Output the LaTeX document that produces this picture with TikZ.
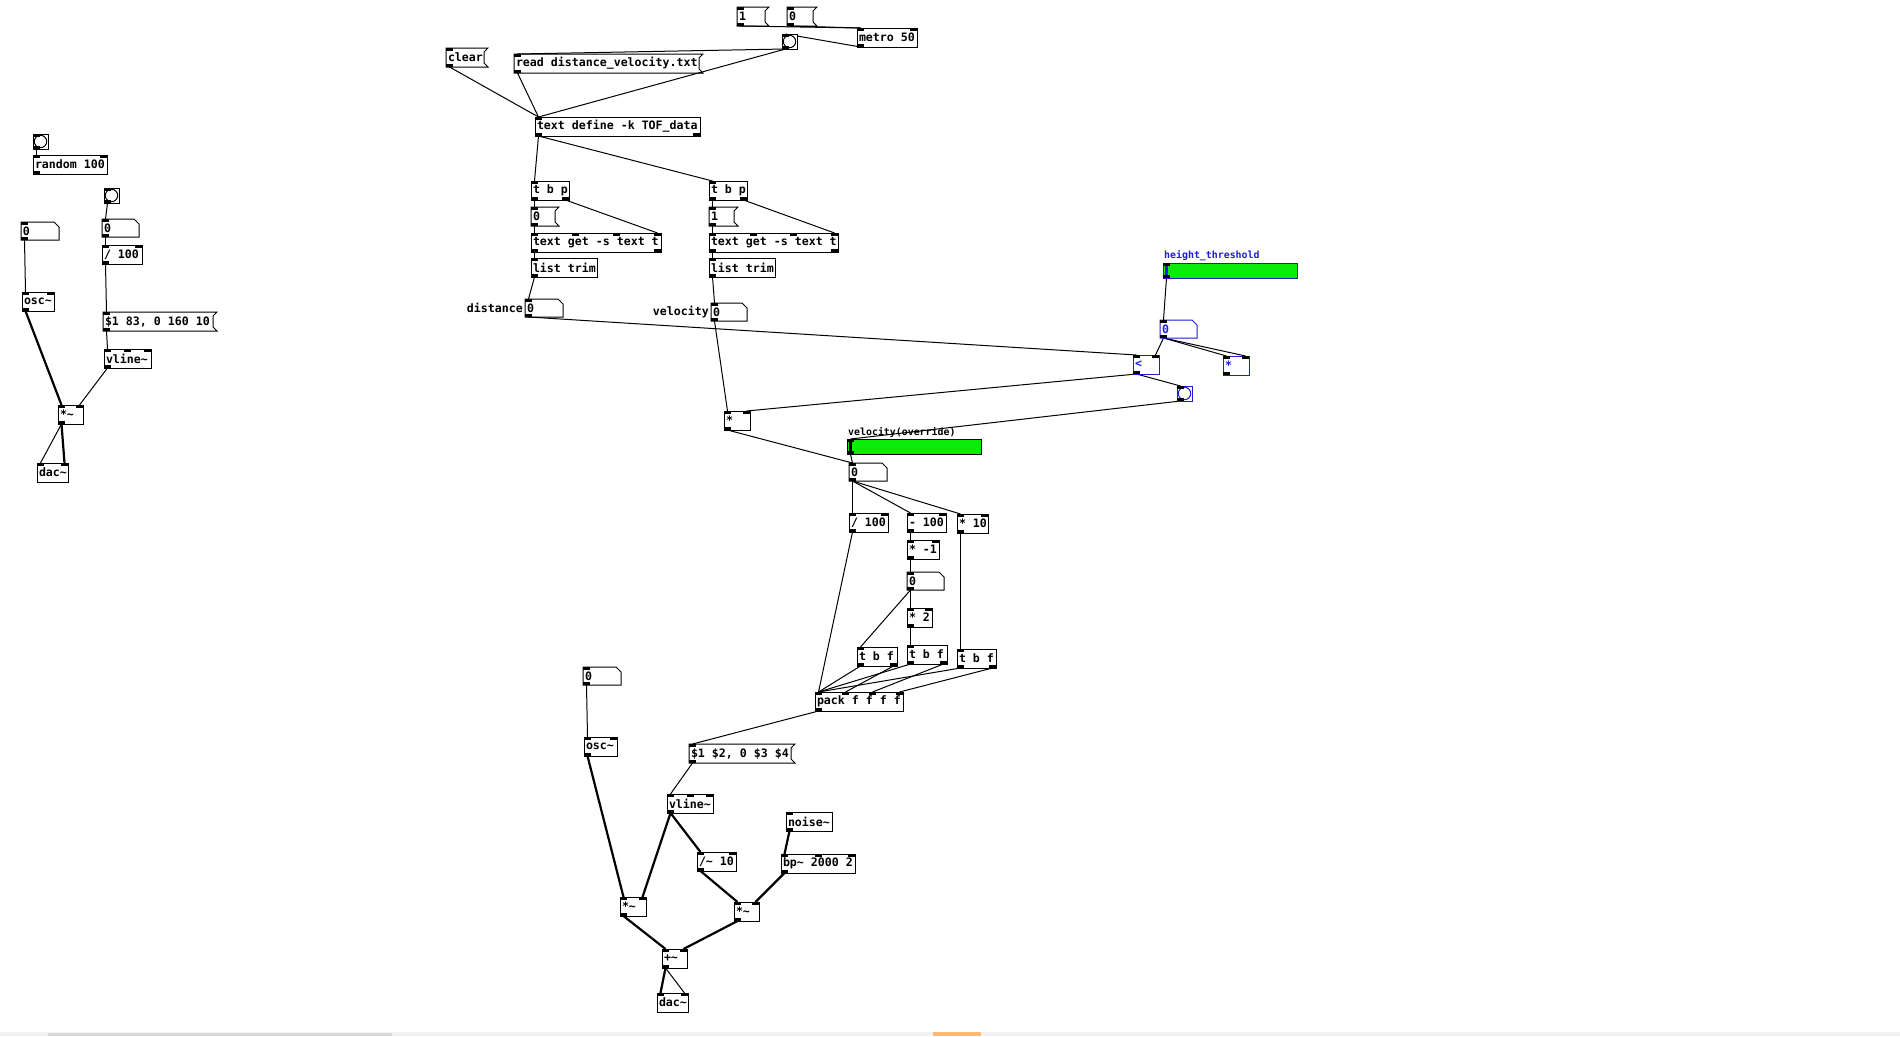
\documentclass[tikz,border=0pt]{standalone}
\usepackage{fontspec}
\usetikzlibrary{calc, backgrounds}

\newfontfamily\pdmono{DejaVu Sans Mono}
\newcommand{\pdtxt}{\pdmono\bfseries\fontsize{11.6pt}{13pt}\selectfont}
\newcommand{\pdsmall}{\pdmono\bfseries\fontsize{9.9pt}{11pt}\selectfont}
\newcommand{\pdtl}{\textasciitilde}

\definecolor{pdblue}{RGB}{30,30,210}
\definecolor{pdgreen}{RGB}{10,235,10}

% inlets and outlets of a box: node, no. of inlets, no. of outlets
\newcommand{\pdports}[3]{%
  \ifnum#2>0
    \foreach \k in {1,...,#2}{%
      \pgfmathsetmacro\pdfr{(\k-1)/max(#2-1,1)}%
      \coordinate (#1-i\k) at ($(#1.north west)!\pdfr!(#1.north east)+(3.5-7*\pdfr,0)$);
      \fill ([xshift=-3.5pt]#1-i\k) rectangle ++(7,3);
    }%
  \fi
  \ifnum#3>0
    \foreach \k in {1,...,#3}{%
      \pgfmathsetmacro\pdfr{(\k-1)/max(#3-1,1)}%
      \coordinate (#1-o\k) at ($(#1.south west)!\pdfr!(#1.south east)+(3.5-7*\pdfr,0)$);
      \fill ([xshift=-3.5pt]#1-o\k) rectangle ++(7,-3);
    }%
  \fi}

\begin{document}
\begin{tikzpicture}[
    x=1pt, y=-1pt,
    box/.style={draw, line width=1pt, anchor=north west, inner xsep=2pt, inner ysep=0pt, outer sep=0pt, minimum height=19pt, font=\pdtxt},
    num/.style={box, draw=none, minimum height=18pt},
    msg/.style={box, draw=none},
    wd/.code={\pgfmathsetmacro\pdtw{#1-4}\pgfkeysalso{minimum width=#1pt, execute at begin node={\hbox to \pdtw pt\bgroup}, execute at end node={\hss\egroup}}},
    bng/.style={draw=#1, fill=white, line width=1pt, anchor=north west, minimum size=15pt, inner sep=0pt, outer sep=0pt,
        path picture={\draw[draw=#1, line width=1pt] (path picture bounding box.center) circle (6.2pt);}},
    bng/.default=black,
    sl/.style={draw=#1, fill=pdgreen, line width=1pt, anchor=north west, minimum width=134pt, minimum height=15pt, inner sep=0pt, outer sep=0pt,
        path picture={\draw[line width=3pt] ([xshift=3.5pt]path picture bounding box.north west) -- ([xshift=3.5pt]path picture bounding box.south west);}},
    sl/.default=black,
    lbl/.style={font=\pdtxt, inner sep=0pt},
    lbl2/.style={font=\pdsmall, inner sep=0pt, anchor=west},
    wire/.style={line width=1pt},
    sig/.style={line width=2.2pt}
]
\useasboundingbox (0,0) rectangle (1900,1036);

% ============ TEST PATCH (LEFT) ============
\node[bng] (bngA) at (33,134) {};
\node[box, wd=74] (rnd) at (33,155) {random 100};
\node[bng] (bngB) at (104,188) {};
\node[num, wd=38] (numA) at (21,222) {0};
\node[num, wd=37] (numB) at (102,219) {0};
\node[box, wd=40] (divA) at (102,245) {/ 100};
\node[box, wd=32] (oscA) at (22,292) {osc\pdtl};
\node[msg, wd=114] (msgA) at (103,312) {\$1 83, 0 160 10};
\node[box, wd=47] (vlA) at (104,349) {vline\pdtl};
\node[box, wd=25] (mulA) at (58,405) {*\pdtl};
\node[box, wd=31] (dacA) at (37,463) {dac\pdtl};

% ============ FILE READING (TOP) ============
\node[msg, wd=32] (msg1) at (737,7) {1};
\node[msg, wd=30] (msg0) at (787,7) {0};
\node[box, wd=60] (metro) at (857,28) {metro 50};
\node[bng] (bngC) at (782,34) {};
\node[msg, wd=42] (clr) at (446,48) {clear};
\node[msg, wd=189] (rd) at (514,54) {read distance\_velocity.txt};
\node[box, wd=165] (tdef) at (535,117) {text define -k TOF\_data};

% distance column
\node[box, wd=38] (tbpL) at (531,181) {t b p};
\node[msg, wd=28] (msgL) at (531,207) {0};
\node[box, wd=130] (tgL) at (531,233) {text get -s text t};
\node[box, wd=66] (ltL) at (531,258) {list trim};
\node[num, wd=38] (dist) at (525,299) {0};
\node[lbl, anchor=east] (distLbl) at ([xshift=-2pt]dist.west) {distance};

% velocity column
\node[box, wd=38] (tbpR) at (709,181) {t b p};
\node[msg, wd=29] (msgR) at (709,207) {1};
\node[box, wd=129] (tgR) at (709,233) {text get -s text t};
\node[box, wd=66] (ltR) at (709,258) {list trim};
\node[num, wd=36] (vel) at (711,303) {0};
\node[lbl, anchor=east] (velLbl) at ([xshift=-2pt]vel.west) {velocity};

% ============ THRESHOLD ============
\node[sl=pdblue] (thSl) at (1163,263) {};
\node[lbl2, text=pdblue] (thLbl) at ([shift={(1pt,7pt)}]thSl.north west) {height\_threshold};
\node[num, wd=37, text=pdblue] (thNum) at (1160,320) {0};
\node[box, wd=26, draw=pdblue, text=pdblue] (lt) at (1133,355) {<};
\node[box, wd=26, draw=pdblue, text=pdblue] (mulB) at (1223,356) {*};
\node[bng=pdblue] (bngD) at (1177,386) {};
\node[box, wd=26] (mulC) at (724,411) {*};
\node[sl] (ovSl) at (847,439) {};
\node[lbl2] (ovLbl) at ([shift={(1pt,7pt)}]ovSl.north west) {velocity(override)};
\node[num, wd=38] (ovNum) at (849,463) {0};

% ============ ENVELOPE PARAMETERS ============
\node[box, wd=39] (divB) at (849,513) {/ 100};
\node[box, wd=39] (subB) at (907,513) {- 100};
\node[box, wd=31] (mulD) at (957,514) {* 10};
\node[box, wd=32] (mulE) at (907,540) {* -1};
\node[num, wd=37] (numC) at (907,572) {0};
\node[box, wd=25] (mulF) at (907,608) {* 2};
\node[box, wd=40] (tbf1) at (857,647) {t b f};
\node[box, wd=40] (tbf2) at (907,645) {t b f};
\node[box, wd=39] (tbf3) at (957,649) {t b f};
\node[box, wd=88] (pack) at (815,692) {pack f f f f};

% ============ SYNTHESIS (BOTTOM) ============
\node[num, wd=38] (numD) at (583,667) {0};
\node[box, wd=33] (oscB) at (584,737) {osc\pdtl};
\node[msg, wd=106] (msgB) at (689,744) {\$1 \$2, 0 \$3 \$4};
\node[box, wd=46] (vlB) at (667,794) {vline\pdtl};
\node[box, wd=46] (noise) at (786,812) {noise\pdtl};
\node[box, wd=39] (divC) at (697,852) {/\pdtl{} 10};
\node[box, wd=74] (bp) at (781,854) {bp\pdtl{} 2000 2};
\node[box, wd=26] (mulG) at (620,897) {*\pdtl};
\node[box, wd=25] (mulH) at (734,902) {*\pdtl};
\node[box, wd=25] (add) at (662,949) {+\pdtl};
\node[box, wd=31] (dacB) at (657,993) {dac\pdtl};

% Message and number box outlines
\foreach \m in {msgA, msg1, msg0, clr, rd, msgL, msgR, msgB}
    \draw[line width=1pt] (\m.north west) -- (\m.north east) -- ([shift={(-4pt,-4pt)}]\m.north east)
        -- ([shift={(-4pt,4pt)}]\m.south east) -- (\m.south east) -- (\m.south west) -- cycle;
\foreach \n/\c in {numA/black, numB/black, dist/black, vel/black, thNum/pdblue, ovNum/black, numC/black, numD/black}
    \draw[draw=\c, line width=1pt] (\n.north west) -- ([xshift=-5pt]\n.north east) -- ([yshift=-5pt]\n.north east)
        -- (\n.south east) -- (\n.south west) -- cycle;

% Inlets / outlets
\foreach \name/\nIn/\nOut in {bngA/1/1, rnd/2/1, bngB/1/1, numA/1/1, numB/1/1, divA/2/1, oscA/2/1, msgA/1/1, vlA/3/1, mulA/2/1, dacA/2/0,
    msg1/1/1, msg0/1/1, metro/2/1, bngC/1/1, clr/1/1, rd/1/1, tdef/1/2,
    tbpL/1/2, msgL/1/1, tgL/4/2, ltL/1/1, dist/1/1, tbpR/1/2, msgR/1/1, tgR/4/2, ltR/1/1, vel/1/1,
    thSl/1/1, thNum/1/1, lt/2/1, mulB/2/1, bngD/1/1, mulC/2/1, ovSl/1/1, ovNum/1/1,
    divB/2/1, subB/2/1, mulD/2/1, mulE/2/1, numC/1/1, mulF/2/1, tbf1/1/2, tbf2/1/2, tbf3/1/2, pack/4/1,
    numD/1/1, oscB/2/1, msgB/1/1, vlB/3/1, noise/1/1, divC/2/1, bp/3/1, mulG/2/1, mulH/2/1, add/2/1, dacB/2/0}
    {\pdports{\name}{\nIn}{\nOut}}

% ============ CONNECTIONS ============
\begin{scope}[on background layer]
\fill[white] (0,0) rectangle (1900,1036);

% test patch
\draw[wire] (bngA-o1) -- (rnd-i1);
\draw[wire] (bngB-o1) -- (numB-i1);
\draw[wire] (numB-o1) -- (divA-i1);
\draw[wire] (divA-o1) -- (msgA-i1);
\draw[wire] (msgA-o1) -- (vlA-i1);
\draw[wire] (vlA-o1) -- (mulA-i2);
\draw[wire] (numA-o1) -- (oscA-i1);
\draw[sig] (oscA-o1) -- (mulA-i1);
\draw[wire] (mulA-o1) -- (dacA-i1);
\draw[sig] (mulA-o1) -- (dacA-i2);

% file reading
\draw[wire] (msg1-o1) -- (metro-i1);
\draw[wire] (msg0-o1) -- (metro-i1);
\draw[wire] (metro-o1) -- (bngC-i1);
\draw[wire] (bngC-o1) -- (rd-i1);
\draw[wire] (bngC-o1) -- (tdef-i1);
\draw[wire] (clr-o1) -- (tdef-i1);
\draw[wire] (rd-o1) -- (tdef-i1);
\foreach \s/\v in {L/dist, R/vel} {
    \draw[wire] (tdef-o1) -- (tbp\s-i1);
    \draw[wire] (tbp\s-o1) -- (msg\s-i1);
    \draw[wire] (tbp\s-o2) -- (tg\s-i4);
    \draw[wire] (msg\s-o1) -- (tg\s-i1);
    \draw[wire] (tg\s-o1) -- (lt\s-i1);
    \draw[wire] (lt\s-o1) -- (\v-i1);
}

% threshold
\draw[wire] (dist-o1) -- (lt-i1);
\draw[wire] (thSl-o1) -- (thNum-i1);
\draw[wire] (thNum-o1) -- (lt-i2);
\draw[wire] (thNum-o1) -- (mulB-i1);
\draw[wire] (thNum-o1) -- (mulB-i2);
\draw[wire] (lt-o1) -- (mulC-i2);
\draw[wire] (lt-o1) -- (bngD-i1);
\draw[wire] (vel-o1) -- (mulC-i1);
\draw[wire] (bngD-o1) -- (ovSl-i1);
\draw[wire] (mulC-o1) -- (ovNum-i1);
\draw[wire] (ovSl-o1) -- (ovNum-i1);

% envelope parameters
\draw[wire] (ovNum-o1) -- (divB-i1);
\draw[wire] (ovNum-o1) -- (subB-i1);
\draw[wire] (ovNum-o1) -- (mulD-i1);
\draw[wire] (divB-o1) -- (pack-i1);
\draw[wire] (subB-o1) -- (mulE-i1);
\draw[wire] (mulE-o1) -- (numC-i1);
\draw[wire] (numC-o1) -- (mulF-i1);
\draw[wire] (numC-o1) -- (tbf1-i1);
\draw[wire] (mulF-o1) -- (tbf2-i1);
\draw[wire] (mulD-o1) -- (tbf3-i1);
\foreach \t/\p in {1/2, 2/3, 3/4} {
    \draw[wire] (tbf\t-o1) -- (pack-i1);
    \draw[wire] (tbf\t-o2) -- (pack-i\p);
}

% synthesis
\draw[wire] (numD-o1) -- (oscB-i1);
\draw[sig] (oscB-o1) -- (mulG-i1);
\draw[wire] (pack-o1) -- (msgB-i1);
\draw[wire] (msgB-o1) -- (vlB-i1);
\draw[sig] (vlB-o1) -- (mulG-i2);
\draw[sig] (vlB-o1) -- (divC-i1);
\draw[sig] (divC-o1) -- (mulH-i1);
\draw[sig] (noise-o1) -- (bp-i1);
\draw[sig] (bp-o1) -- (mulH-i2);
\draw[sig] (mulG-o1) -- (add-i1);
\draw[sig] (mulH-o1) -- (add-i2);
\draw[sig] (add-o1) -- (dacB-i1);
\draw[wire] (add-o1) -- (dacB-i2);
\end{scope}

% window scroll bar
\fill[gray!10] (0,1032) rectangle (1900,1036);
\fill[gray!30] (48,1033) rectangle (392,1036);
\fill[orange!55] (933,1032) rectangle (981,1036);

\end{tikzpicture}
\end{document}
